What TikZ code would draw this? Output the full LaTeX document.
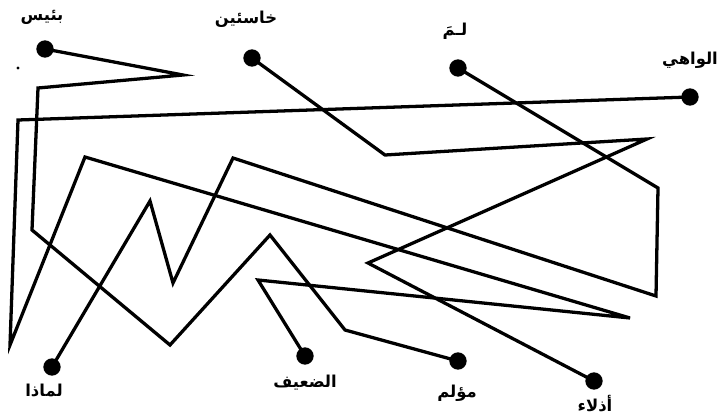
\documentclass[tikz,border=0pt]{standalone}
\usepackage{fontspec}
\newfontfamily\arabicfont[Script=Arabic]{DejaVu Sans}
\TeXXeTstate=1
\begin{document}
\begin{tikzpicture}[x=0.03cm,y=-0.03cm,
  dot/.style={circle,fill=black,inner sep=0pt,minimum size=0.52cm},
  lbl/.style={font=\arabicfont\bfseries\fontsize{14}{16}\selectfont,inner sep=0pt},
  maze/.style={line width=2.8pt}]
\useasboundingbox (0,0) rectangle (727,420);
% top nodes
\node[dot] (t1) at (45,49) {};
\node[dot] (t2) at (252,58) {};
\node[dot] (t3) at (458,68) {};
\node[dot] (t4) at (690,97) {};
% bottom nodes
\node[dot] (b1) at (52,367) {};
\node[dot] (b2) at (305,356) {};
\node[dot] (b3) at (458,361) {};
\node[dot] (b4) at (594,381) {};
% stray mark
\fill (18,68) circle (0.05cm);
% labels
\node[lbl] at (42,17) {\beginR بئيس\endR};
\node[lbl] at (246,19) {\beginR خاسئين\endR};
\node[lbl] at (455,31) {\beginR لـمَ\endR};
\node[lbl] at (690,60) {\beginR الواهي\endR};
\node[lbl] at (44,390) {\beginR لماذا\endR};
\node[lbl] at (305,383) {\beginR الضعيف\endR};
\node[lbl] at (457,393) {\beginR مؤلم\endR};
\node[lbl] at (595,404) {\beginR أذلاء\endR};
% maze paths
\draw[maze] (t1.center) -- (183,75) -- (38,88) -- (32,230) -- (170,345) -- (270,235) -- (345,330) -- (b3.center);
\draw[maze] (t2.center) -- (385,155) -- (647,139) -- (368,263) -- (b4.center);
\draw[maze] (t3.center) -- (658,188) -- (656,296) -- (233,158) -- (173,283) -- (150,201) -- (b1.center);
\draw[maze] (t4.center) -- (18,120) -- (10,345) -- (85,157) -- (630,318) -- (258,280) -- (b2.center);
\end{tikzpicture}
\end{document}
